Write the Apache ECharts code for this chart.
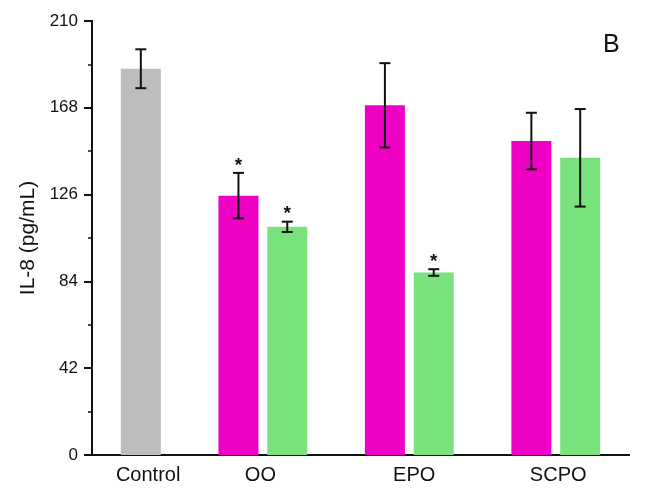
<!DOCTYPE html>
<html>
<head>
<meta charset="utf-8">
<script src="https://cdn.jsdelivr.net/npm/echarts@6/dist/echarts.min.js"></script>
<style>
  html, body { margin: 0; padding: 0; background: #fff; }
  #chart { width: 655px; height: 502px; }
</style>
</head>
<body>
<div id="chart"></div>
<script>
// bar slots on the x value axis (Control alone, then two bars per oil)
const positions = [1, 3, 4, 6, 7, 9, 10];
const kinds = ["control", "pink", "green", "pink", "green", "pink", "green"];
const means = [186.9, 125.5, 110.4, 169.2, 88.3, 151.9, 143.8];
const errors = [9.4, 11.0, 2.5, 20.4, 1.6, 13.7, 23.6];
const marked = [false, true, true, false, true, false, false];

const categories = ["Control", "OO", "EPO", "SCPO"];
const categoryPositions = [1.15, 3.45, 6.6, 9.55];
const yTicks = [0, 42, 84, 126, 168, 210];

const colors = { control: "#bdbdbd", pink: "#ee00c4", green: "#7ae27c" };
const ink = "#111";

const chart = echarts.init(document.getElementById("chart"));

const barData = positions.map(function (x, i) {
    return { value: [x, means[i]], itemStyle: { color: colors[kinds[i]] } };
});
const errData = positions.map(function (x, i) {
    return [x, means[i] - errors[i], means[i] + errors[i], marked[i] ? 1 : 0];
});

chart.setOption({
    animation: false,
    title: {
        text: "B",
        left: 598,
        top: 28,
        textStyle: { fontFamily: "Liberation Sans", fontSize: 25, fontWeight: "normal", color: ink },
    },
    grid: { left: 92, right: 26, top: 21, bottom: 47 },
    xAxis: [
        {
            type: "value",
            min: 0,
            max: 11,
            splitLine: { show: false },
            axisLine: { lineStyle: { color: ink, width: 2 } },
            axisTick: { show: false },
            axisLabel: {
                customValues: categoryPositions,
                margin: 10,
                fontFamily: "Liberation Sans",
                fontSize: 20,
                color: ink,
                formatter: function (v) {
                    let best = 0;
                    categoryPositions.forEach(function (p, i) {
                        if (Math.abs(p - v) < Math.abs(categoryPositions[best] - v)) best = i;
                    });
                    return categories[best];
                },
            },
        },
        {
            type: "value",
            position: "top",
            min: 0,
            max: 11,
            splitLine: { show: false },
            axisLine: { show: true, lineStyle: { color: ink, width: 2 } },
            axisTick: { show: false },
            axisLabel: { show: false },
        },
    ],
    yAxis: [
        {
            type: "value",
            min: 0,
            max: 210,
            interval: 42,
            name: "IL-8 (pg/mL)",
            nameLocation: "middle",
            nameGap: 52,
            nameTextStyle: { fontFamily: "Liberation Sans", fontSize: 21, color: ink },
            splitLine: { show: false },
            axisLine: { show: true, lineStyle: { color: ink, width: 2 } },
            axisTick: { show: true, length: 8, lineStyle: { color: ink, width: 2 } },
            minorTick: { show: true, splitNumber: 2, length: 4, lineStyle: { color: ink, width: 1.5 } },
            axisLabel: {
                margin: 14,
                fontFamily: "Liberation Sans",
                fontSize: 17,
                color: ink,
                formatter: function (v) { return yTicks.indexOf(v) >= 0 ? String(v) : ""; },
            },
        },
        {
            type: "value",
            position: "right",
            min: 0,
            max: 210,
            splitLine: { show: false },
            axisLine: { show: true, lineStyle: { color: ink, width: 2 } },
            axisTick: { show: false },
            axisLabel: { show: false },
        },
    ],
    series: [
        {
            type: "bar",
            data: barData,
            barWidth: 40,
        },
        {
            type: "custom",
            data: errData,
            z: 5,
            renderItem: function (params, api) {
                const x = api.value(0);
                const lo = api.coord([x, api.value(1)]);
                const hi = api.coord([x, api.value(2)]);
                const half = 5.5;
                const style = { stroke: ink, lineWidth: 2 };
                const children = [
                    { type: "line", shape: { x1: lo[0], y1: lo[1], x2: hi[0], y2: hi[1] }, style: style },
                    { type: "line", shape: { x1: hi[0] - half, y1: hi[1], x2: hi[0] + half, y2: hi[1] }, style: style },
                    { type: "line", shape: { x1: lo[0] - half, y1: lo[1], x2: lo[0] + half, y2: lo[1] }, style: style },
                ];
                if (api.value(3)) {
                    children.push({
                        type: "text",
                        style: {
                            text: "*",
                            x: hi[0],
                            y: hi[1] + 2,
                            align: "center",
                            verticalAlign: "bottom",
                            font: "bold 19px Liberation Sans",
                            fill: ink,
                        },
                    });
                }
                return { type: "group", children: children };
            },
        },
    ],
});
</script>
</body>
</html>
